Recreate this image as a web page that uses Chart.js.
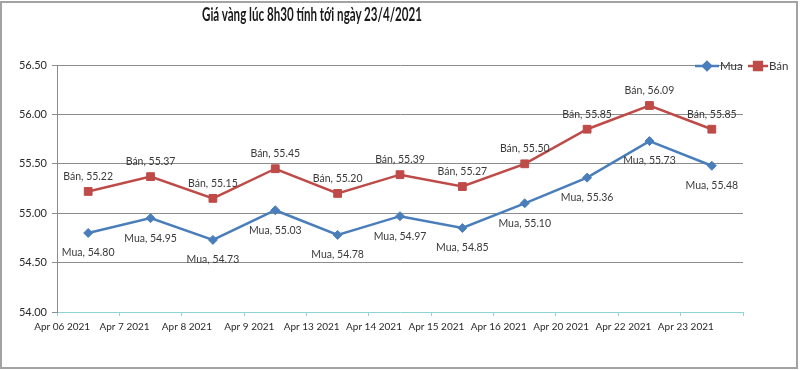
<!DOCTYPE html>
<html>
<head>
<meta charset="utf-8">
<script src="https://cdn.jsdelivr.net/npm/chart.js@4.4.1/dist/chart.umd.min.js"></script>
<style>
    html, body {
        margin: 0;
        padding: 0;
        background: #ffffff;
    }
    #wrap {
        position: relative;
        width: 800px;
        height: 370px;
        overflow: hidden;
    }
    #frame {
        position: absolute;
        left: 0;
        top: 1px;
        width: 794px;
        height: 364px;
        border: 2px solid #a3a3a3;
        pointer-events: none;
    }
    #title {
        position: absolute;
        top: 3px;
        left: 202px;
        white-space: nowrap;
        font-family: Lato, "Open Sans", sans-serif;
        font-weight: 700;
        font-size: 18px;
        color: #1a1a1a;
        transform-origin: 0 0;
    }
    canvas {
        position: absolute;
        left: 0;
        top: 0;
    }
</style>
</head>
<body>
<div id="wrap">
    <canvas id="chartVang" width="800" height="370"></canvas>
    <div id="title">Giá vàng lúc 8h30 tính tới ngày 23/4/2021</div>
    <div id="frame"></div>
</div>
<script>
const ngay = ['Apr 06 2021', 'Apr 7 2021', 'Apr 8 2021', 'Apr 9 2021', 'Apr 13 2021', 'Apr 14 2021',
    'Apr 15 2021', 'Apr 16 2021', 'Apr 20 2021', 'Apr 22 2021', 'Apr 23 2021'];
const giaMua = [54.80, 54.95, 54.73, 55.03, 54.78, 54.97, 54.85, 55.10, 55.36, 55.73, 55.48];
const giaBan = [55.22, 55.37, 55.15, 55.45, 55.20, 55.39, 55.27, 55.50, 55.85, 56.09, 55.85];

const MAU_MUA = '#4a7ebb';
const MAU_BAN = '#be4b48';
const FONT = 'Lato, "Open Sans", sans-serif';

// title: squeeze to the width it has in the picture (x 202..422)
const title = document.getElementById('title');
const fitTitle = () => {
    title.style.transform = 'none';
    const w = title.getBoundingClientRect().width;
    title.style.transform = `scaleX(${220 / w})`;
};
fitTitle();
if (document.fonts) document.fonts.ready.then(fitTitle);

// value labels: "Mua, 54.80" under the blue points, "Bán, 55.22" over the red ones
const nhanGiaTri = {
    id: 'nhanGiaTri',
    afterDatasetsDraw(chart) {
        const ctx = chart.ctx;
        ctx.save();
        ctx.font = `10.5px ${FONT}`;
        ctx.fillStyle = '#3a3a3a';
        ctx.textAlign = 'center';
        ctx.textBaseline = 'middle';
        chart.data.datasets.forEach((ds, i) => {
            const meta = chart.getDatasetMeta(i);
            const dy = i === 0 ? 20 : -15;
            meta.data.forEach((pt, j) => {
                ctx.fillText(`${ds.label}, ${ds.data[j].toFixed(2)}`, pt.x, pt.y + dy);
            });
        });
        ctx.restore();
    }
};

// legend in the top right corner, line + marker like the original
const chuGiai = {
    id: 'chuGiai',
    afterDraw(chart) {
        const ctx = chart.ctx;
        const y = 66;
        const items = [
            { x: 695, len: 24, text: 'Mua', color: MAU_MUA, style: 'rectRot', r: 4 },
            { x: 748, len: 20, text: 'Bán', color: MAU_BAN, style: 'rect', r: 5.5 }
        ];
        ctx.save();
        items.forEach(it => {
            ctx.strokeStyle = it.color;
            ctx.lineWidth = 2.5;
            ctx.beginPath();
            ctx.moveTo(it.x, y);
            ctx.lineTo(it.x + it.len, y);
            ctx.stroke();
            ctx.fillStyle = it.color;
            Chart.helpers.drawPoint(ctx, { pointStyle: it.style, radius: it.r, borderWidth: 1 }, it.x + it.len / 2, y);
            ctx.fillStyle = '#3a3a3a';
            ctx.font = `11.5px ${FONT}`;
            ctx.textAlign = 'left';
            ctx.textBaseline = 'middle';
            ctx.fillText(it.text, it.x + it.len + 1, y);
        });
        ctx.restore();
    }
};

const chartVang = new Chart(
    document.getElementById('chartVang').getContext('2d'),
    {
        type: 'line',
        data: {
            labels: ngay,
            datasets: [{
                label: 'Mua',
                data: giaMua,
                borderColor: MAU_MUA,
                backgroundColor: MAU_MUA,
                borderWidth: 2.5,
                tension: 0,
                pointStyle: 'rectRot',
                pointRadius: 4.5,
                pointBorderWidth: 1,
                pointBorderColor: MAU_MUA,
                pointBackgroundColor: MAU_MUA
            }, {
                label: 'Bán',
                data: giaBan,
                borderColor: MAU_BAN,
                backgroundColor: MAU_BAN,
                borderWidth: 2.5,
                tension: 0,
                pointStyle: 'rect',
                pointRadius: 5.5,
                pointBorderWidth: 1,
                pointBorderColor: MAU_BAN,
                pointBackgroundColor: MAU_BAN
            }]
        },
        options: {
            responsive: false,
            animation: false,
            layout: {
                padding: { left: 0, top: 65, right: 57, bottom: 0 }
            },
            plugins: {
                legend: { display: false },
                title: { display: false },
                tooltip: { enabled: false }
            },
            scales: {
                x: {
                    offset: true,
                    afterFit: (s) => { s.height = 58; },
                    grid: {
                        offset: true,
                        drawOnChartArea: false,
                        drawTicks: true,
                        tickLength: 4,
                        color: '#8fd3da'
                    },
                    border: {
                        display: true,
                        color: '#8fd3da',
                        width: 1
                    },
                    ticks: {
                        color: '#2a2a2a',
                        font: { family: FONT, size: 10 },
                        maxRotation: 0,
                        autoSkip: false,
                        labelOffset: -26,
                        padding: 5
                    }
                },
                y: {
                    min: 54,
                    max: 56.5,
                    afterFit: (s) => { s.width = 57; },
                    grid: {
                        color: (c) => c.tick && c.tick.value === 54 ? 'rgba(0,0,0,0)' : '#8c8c8c',
                        tickLength: 5,
                        tickColor: '#8c8c8c'
                    },
                    border: {
                        display: true,
                        color: '#8c8c8c',
                        width: 1
                    },
                    ticks: {
                        stepSize: 0.5,
                        color: '#2a2a2a',
                        font: { family: FONT, size: 11 },
                        padding: 5,
                        callback: (v) => v.toFixed(2)
                    }
                }
            }
        },
        plugins: [nhanGiaTri, chuGiai]
    }
);
</script>
</body>
</html>
